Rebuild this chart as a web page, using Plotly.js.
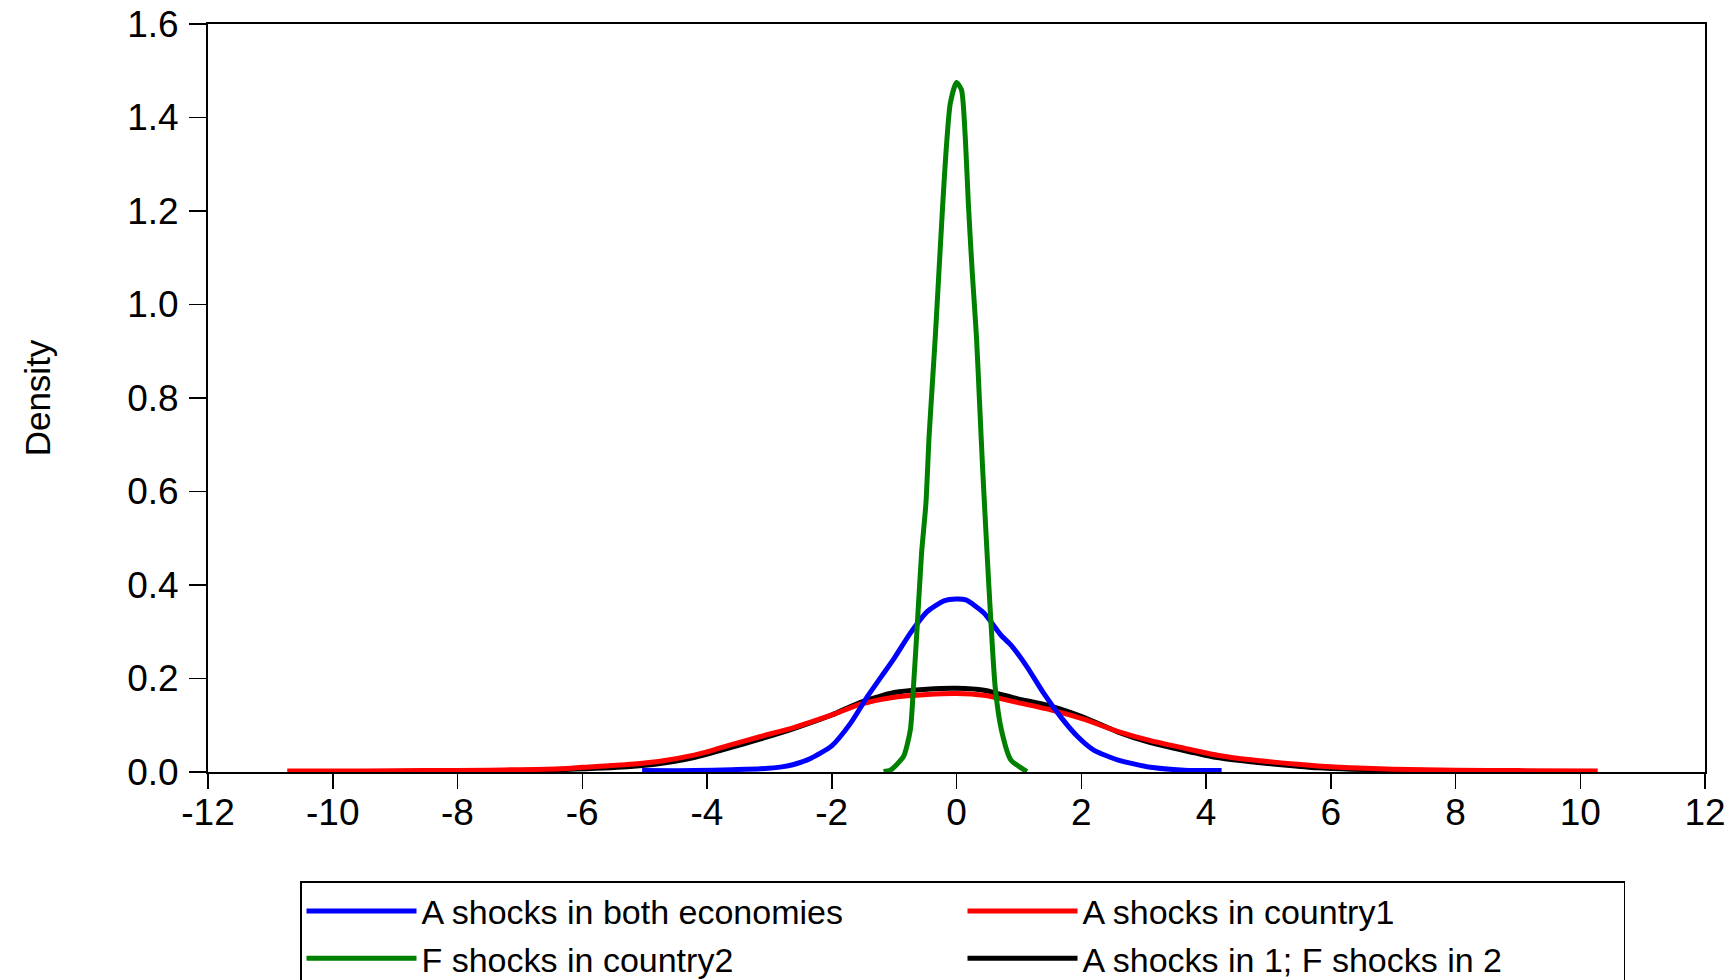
<!DOCTYPE html>
<html>
<head>
<meta charset="utf-8">
<script src="https://cdn.plot.ly/plotly-3.0.1.min.js"></script>
<style>html,body{margin:0;padding:0;background:#fff;}#chart{width:1732px;height:980px;}</style>
</head>
<body>
<div id="chart"></div>
<script>
// Series names
const seriesNames = ["A shocks in both economies", "A shocks in country1", "F shocks in country2", "A shocks in 1; F shocks in 2"];

// Blue: A shocks in both economies
const blueX = [-5.04,-4.2,-3.6,-3.14,-2.8,-2.61,-2.34,-2.0,-1.70,-1.43,-1.2,-1.0,-0.74,-0.47,-0.20,0.0,0.15,0.44,0.71,0.87,1.13,1.40,1.67,1.94,2.20,2.58,3.11,3.65,4.25];
const blueY = [0.003,0.003,0.005,0.007,0.011,0.016,0.029,0.056,0.104,0.161,0.205,0.243,0.297,0.343,0.366,0.370,0.368,0.340,0.293,0.272,0.225,0.168,0.118,0.076,0.047,0.026,0.010,0.004,0.003];

// Red: A shocks in country1
const redX = [-10.73,-9.5,-8.5,-7.5,-7.0,-6.35,-6.0,-5.28,-4.75,-4.21,-4.0,-3.68,-3.14,-2.61,-2.0,-1.54,-1.0,-0.47,0.0,0.44,0.97,1.51,2.04,2.58,3.11,3.65,4.18,4.72,5.25,5.79,6.32,7.0,8.0,9.0,10.28];
const redY = [0.002,0.002,0.003,0.004,0.005,0.007,0.010,0.016,0.023,0.036,0.043,0.056,0.076,0.095,0.122,0.145,0.160,0.166,0.168,0.164,0.149,0.133,0.113,0.087,0.067,0.051,0.036,0.026,0.019,0.013,0.009,0.006,0.004,0.003,0.002];

// Green: F shocks in country2
const greenX = [-1.17,-1.06,-0.85,-0.74,-0.69,-0.64,-0.56,-0.49,-0.44,-0.39,-0.34,-0.28,-0.22,-0.17,-0.10,0.0,0.08,0.14,0.19,0.25,0.32,0.37,0.42,0.49,0.55,0.62,0.72,0.87,1.13];
const greenY = [0.001,0.004,0.033,0.090,0.182,0.289,0.468,0.575,0.717,0.824,0.931,1.074,1.216,1.323,1.430,1.475,1.459,1.359,1.216,1.074,0.931,0.789,0.646,0.468,0.325,0.182,0.090,0.026,0.001];

// Black: A shocks in 1; F shocks in 2
const blackX = [-10.5,-9.0,-8.0,-7.0,-6.35,-5.28,-4.75,-4.21,-3.68,-3.14,-2.61,-2.0,-1.54,-1.0,-0.47,0.0,0.44,0.97,1.51,2.04,2.58,3.11,3.65,4.18,4.72,5.25,5.79,6.32,7.0,8.0,9.0,10.0];
const blackY = [0.001,0.001,0.002,0.003,0.005,0.011,0.018,0.031,0.050,0.071,0.093,0.122,0.149,0.170,0.177,0.179,0.175,0.157,0.141,0.117,0.086,0.063,0.046,0.031,0.022,0.015,0.009,0.006,0.004,0.002,0.001,0.001];

const xTicks = [-12,-10,-8,-6,-4,-2,0,2,4,6,8,10,12];
const yTicks = [0.0,0.2,0.4,0.6,0.8,1.0,1.2,1.4,1.6];

const lineW = 5;
const traces = [
  {x: blackX, y: blackY, name: seriesNames[3], legendrank: 4, line: {color: "#000000", width: lineW, shape: "spline", smoothing: 0.6}},
  {x: redX, y: redY, name: seriesNames[1], legendrank: 2, line: {color: "#FF0000", width: lineW, shape: "spline", smoothing: 0.6}},
  {x: blueX, y: blueY, name: seriesNames[0], legendrank: 1, line: {color: "#0000FF", width: lineW, shape: "spline", smoothing: 0.6}},
  {x: greenX, y: greenY, name: seriesNames[2], legendrank: 3, line: {color: "#008000", width: lineW, shape: "spline", smoothing: 0.6}}
].map(t => Object.assign({type: "scatter", mode: "lines", hoverinfo: "x+y"}, t));

const fam = "Liberation Sans, Arial, sans-serif";
const tickFont = {family: fam, size: 37, color: "#000"};

const layout = {
  width: 1732, height: 980, autosize: false,
  paper_bgcolor: "#fff", plot_bgcolor: "#fff",
  margin: {l: 208, r: 27, t: 24, b: 208, pad: 0, autoexpand: false},
  showlegend: true,
  xaxis: {
    range: [-12, 12], tickvals: xTicks, ticktext: xTicks.map(String),
    showgrid: false, zeroline: false,
    showline: true, linecolor: "#000", linewidth: 2, mirror: true,
    ticks: "outside", ticklen: 15, tickwidth: 1.5, tickcolor: "#000",
    tickfont: tickFont, automargin: false, ticklabelstandoff: -8
  },
  yaxis: {
    range: [0, 1.6], tickvals: yTicks, ticktext: yTicks.map(v => v.toFixed(1)),
    showgrid: false, zeroline: false,
    showline: true, linecolor: "#000", linewidth: 2, mirror: true,
    ticks: "outside", ticklen: 17, tickwidth: 1.5, tickcolor: "#000",
    tickfont: tickFont, automargin: false, ticklabelstandoff: 3,
    title: {text: "Density", font: {family: fam, size: 35, color: "#000"}, standoff: 66}
  },
  legend: {
    orientation: "h", x: (300 - 208) / 1497, xanchor: "left", y: (772 - 881) / 748, yanchor: "top",
    bordercolor: "#000", borderwidth: 1.5, bgcolor: "#fff",
    font: {family: fam, size: 34, color: "#000"},
    entrywidth: 536, entrywidthmode: "pixels", itemwidth: 110, traceorder: "normal"
  }
};

Plotly.newPlot("chart", traces, layout, {displayModeBar: false, staticPlot: true});
</script>
</body>
</html>
